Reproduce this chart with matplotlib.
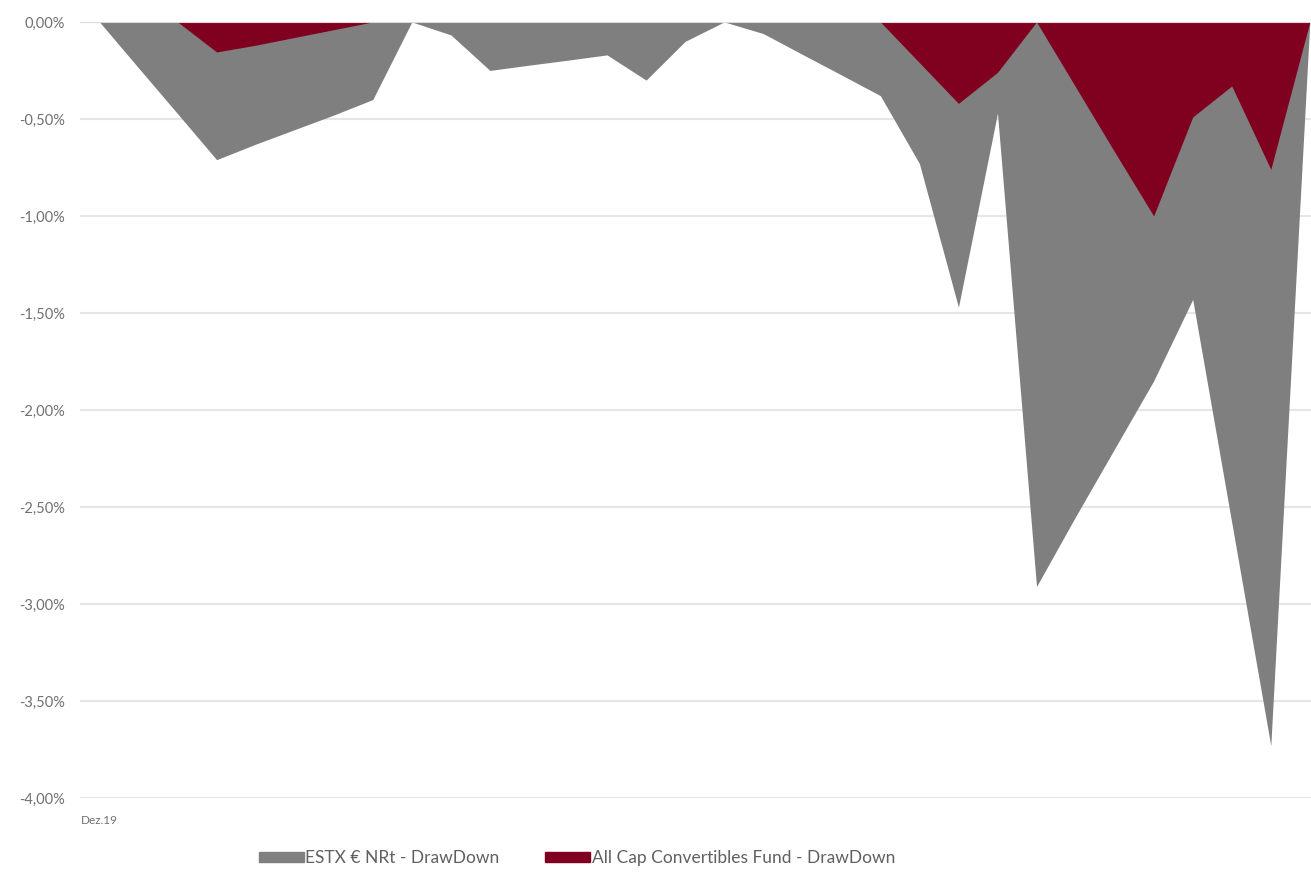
import matplotlib
matplotlib.use("Agg")
from matplotlib import pyplot as plt
from matplotlib.patches import Patch
import numpy as np

# drawdown in % per observation (32 points, first one is Dez.19)
estx = [0.0, -0.237, -0.473, -0.71, -0.63, -0.555, -0.48, -0.40,
        0.0, -0.067, -0.25, -0.223, -0.197, -0.17, -0.30, -0.10,
        0.0, -0.06, -0.167, -0.273, -0.38, -0.73, -1.47, -0.47,
        -2.91, -2.55, -2.20, -1.85, -1.43, -2.58, -3.73, 0.0]
fund = [0.0, 0.0, 0.0, -0.155, -0.12, -0.08, -0.04, 0.0,
        0.0, 0.0, 0.0, 0.0, 0.0, 0.0, 0.0, 0.0,
        0.0, 0.0, 0.0, 0.0, 0.0, -0.21, -0.42, -0.26,
        0.0, -0.335, -0.67, -1.0, -0.49, -0.33, -0.76, 0.0]
x_labels = ["Dez.19"]
y_ticks = [0.0, -0.5, -1.0, -1.5, -2.0, -2.5, -3.0, -3.5, -4.0]
names = ["ESTX € NRt - DrawDown", "All Cap Convertibles Fund - DrawDown"]
colors = ["#7f7f7f", "#80001f"]

x = np.arange(len(estx))

fig = plt.figure(figsize=(13.11, 8.73), dpi=100)
ax = fig.add_axes([0.061, 0.0859, 0.939, 0.889])

ax.fill_between(x, estx, 0, color=colors[0], lw=0, zorder=2)
ax.fill_between(x, fund, 0, color=colors[1], lw=0, zorder=2.5)
ax.axhline(0, color="#e3d6d8", lw=1.5, zorder=3)

ax.set_xlim(-0.5, 31.03)
ax.set_ylim(-4.0, 0.0)
ax.set_yticks(y_ticks)
ax.set_yticklabels([("%.2f%%" % v).replace(".", ",") for v in y_ticks],
                   fontsize=10.5, color="#707070", family="Lato")
ax.set_xticks([0])
ax.set_xticklabels(x_labels, fontsize=8.5, color="#707070", family="Lato")
ax.tick_params(length=0, axis="y", pad=11)
ax.tick_params(length=0, axis="x", pad=12)
ax.grid(axis="y", color="#e6e6e6", lw=1.5, zorder=0)
ax.set_axisbelow(True)
for s in ax.spines.values():
    s.set_visible(False)

handles = [Patch(color=c) for c in colors]
leg = fig.legend(handles, names, loc="center", bbox_to_anchor=(0.44, 0.017),
                 ncol=2, frameon=False, handlelength=2.6, handleheight=0.55,
                 handletextpad=0.1, columnspacing=2.6,
                 prop={"family": "Lato", "size": 12.5})
for t in leg.get_texts():
    t.set_color("#606060")

fig.savefig("out.png", dpi=100)
